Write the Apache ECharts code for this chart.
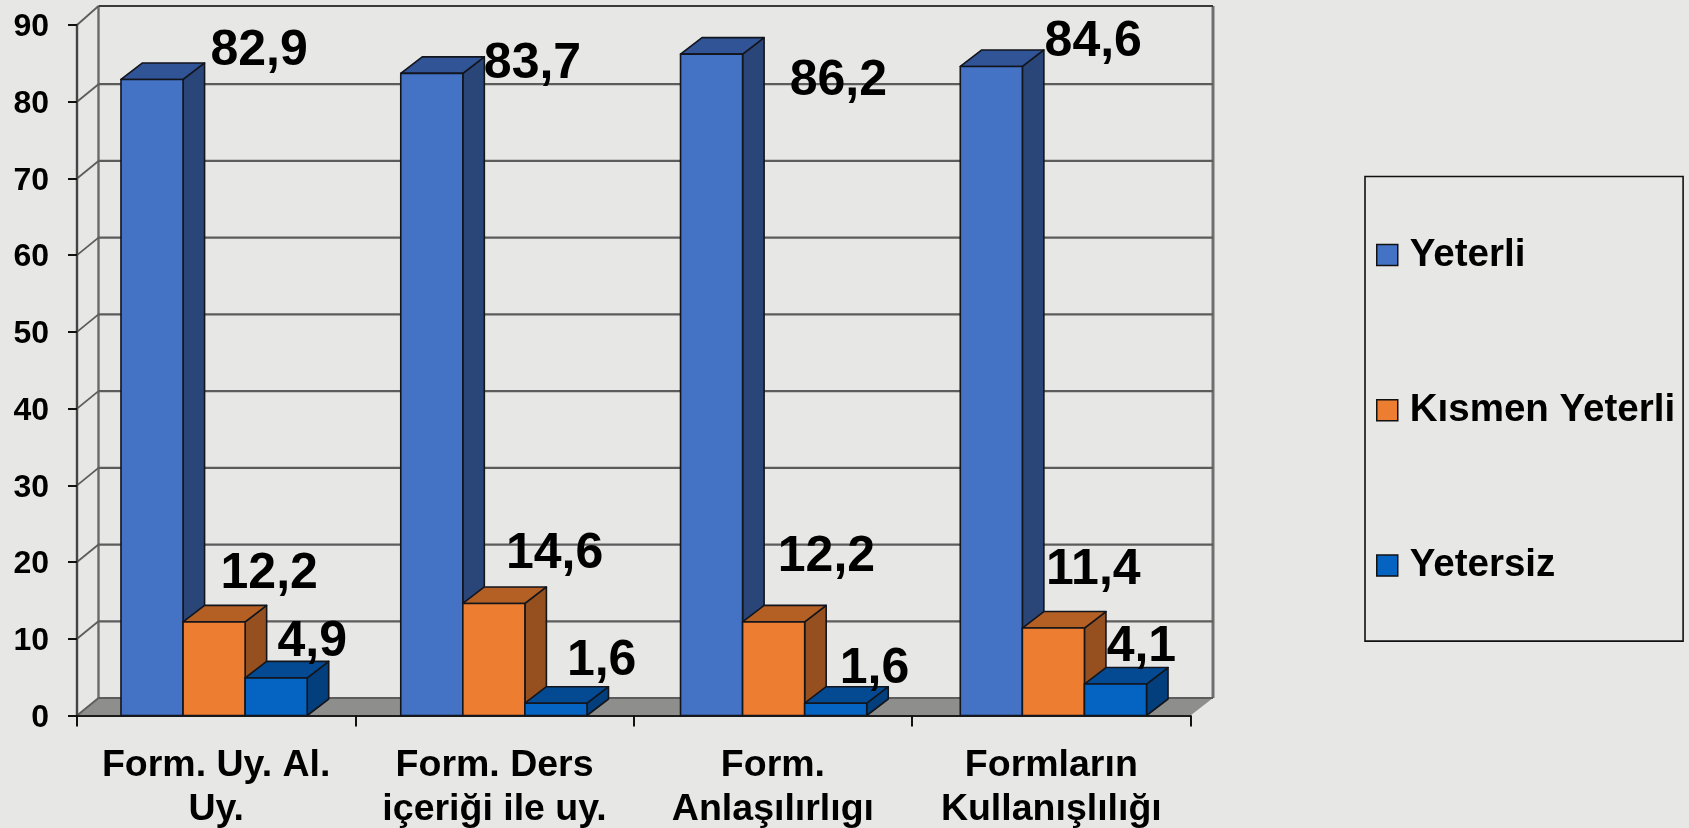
<!DOCTYPE html>
<html>
<head>
<meta charset="utf-8">
<script src="https://cdn.jsdelivr.net/npm/echarts@6/dist/echarts.min.js"></script>
<style>html,body{margin:0;padding:0;background:#e7e7e6}#c{width:1689px;height:828px}</style>
</head>
<body>
<div id="c"></div>
<script>
const categories = ['Form. Uy. Al.\nUy.', 'Form. Ders\niçeriği ile uy.', 'Form.\nAnlaşılırlıgı', 'Formların\nKullanışlılığı'];
const yeterli = [82.9, 83.7, 86.2, 84.6];
const kismenYeterli = [12.2, 14.6, 12.2, 11.4];
const yetersiz = [4.9, 1.6, 1.6, 4.1];
const yTicks = [0, 10, 20, 30, 40, 50, 60, 70, 80, 90];

// label offsets from each bar's front-top centre, as placed in the reference
const yeterliLabelOffset = [[105, -28], [100, -9.5], [127.5, 27], [104, -24.5]];
const kismenLabelOffset = [[53, -48], [60, -49], [53.5, -65], [42, -57.5]];
const yetersizLabelOffset = [[34, -36], [45, -42], [39.5, -34.5], [28, -37]];

const FONT = '"Liberation Sans", Arial, sans-serif';
const DX = 21.5, DY = 16.5, WALL_DY = 17.5, TOP_EXTRA = 1.5;
const BAR_RATIO = 0.223;
const GROUP_SPREAD = 1.005; // the reference's bar groups sit slightly wider apart than its ticks

function barSeries(name, values, offsets, slot, front, top, side) {
  return {
    name, type: 'custom', z: 3,
    coordinateSystem: 'cartesian2d',
    clip: false,
    itemStyle: { color: front },
    encode: { x: 0, y: 1 },
    data: values.map((v, i) => [i, v]),
    renderItem(params, api) {
      const i = api.value(0), v = api.value(1);
      const w = api.size([1, 0])[0] * BAR_RATIO;
      const c = api.coord([i, v]);
      const base = api.coord([i, 0]);
      const mid = params.coordSys.x + params.coordSys.width / 2;
      const cx = mid + (c[0] - mid) * GROUP_SPREAD;
      const l = cx + (slot - 1.5) * w, r = l + w, t = c[1], b = base[1];
      const edge = { stroke: '#12151c', lineWidth: 1.6, lineJoin: 'round' };
      const off = offsets[params.dataIndex];
      return {
        type: 'group',
        children: [
          { type: 'polygon', shape: { points: [[r, t], [r + DX, t - DY], [r + DX, b - DY], [r, b]] }, style: { fill: side, ...edge } },
          { type: 'polygon', shape: { points: [[l, t], [l + DX, t - DY], [r + DX, t - DY], [r, t]] }, style: { fill: top, ...edge } },
          { type: 'rect', shape: { x: l, y: t, width: w, height: b - t }, style: { fill: front, ...edge } },
          { type: 'text', z2: 50, style: {
              text: v.toFixed(1).replace('.', ','),
              x: c[0] + (slot - 1) * w + off[0], y: t + off[1],
              align: 'center', verticalAlign: 'middle',
              font: 'bold 50px ' + FONT, fill: '#000'
          } }
        ]
      };
    }
  };
}

const wallSeries = {
  name: 'walls', type: 'custom', z: 0, silent: true,
  coordinateSystem: 'cartesian2d', clip: false,
  encode: { y: 0 },
  data: yTicks.map(t => [t]),
  renderItem(params, api) {
    const sys = params.coordSys;
    const v = api.value(0);
    const y = api.coord([0, v])[1];
    const x0 = sys.x, x1 = sys.x + sys.width;
    const children = [];
    const line = (a, b, c, d, stroke, lw) => ({ type: 'line', shape: { x1: a, y1: b, x2: c, y2: d }, style: { stroke, lineWidth: lw } });
    const top = v === yTicks[yTicks.length - 1];
    const yBack = y - WALL_DY - (top ? TOP_EXTRA : 0);
    if (params.dataIndex === 0) {
      children.push({ type: 'polygon', shape: { points: [[x0, y], [x1, y], [x1 + DX + 1, y - WALL_DY], [x0 + DX, y - WALL_DY]] }, style: { fill: '#8e8e8c' } });
      const yTop = sys.y - WALL_DY - TOP_EXTRA;
      children.push(line(x0 + DX, y - WALL_DY, x0 + DX, yTop, '#6a6a6a', 2.4));
      children.push(line(x1 + DX + 1, y - WALL_DY, x1 + DX + 1, yTop, '#707070', 3));
    }
    children.push(line(x0 + DX, yBack, x1 + DX + 1, yBack, top ? '#3a3a3a' : '#5c5c5c', 2.2));
    children.push(line(x0, y, x0 + DX, yBack, '#5c5c5c', 1.8));
    return { type: 'group', children };
  }
};

const chart = echarts.init(document.getElementById('c'));
chart.setOption({
  animation: false,
  backgroundColor: '#e7e7e6',
  textStyle: { fontFamily: FONT },
  grid: { left: 77, top: 25, width: 1113.5, height: 690.5, containLabel: false, outerBoundsMode: 'none' },
  xAxis: {
    type: 'category', data: categories, z: 1,
    axisLine: { lineStyle: { color: '#1c1c1c', width: 2 } },
    axisTick: { show: true, length: 11, lineStyle: { color: '#111', width: 2 } },
    axisLabel: { interval: 0, margin: 28, fontSize: 37.5, fontWeight: 'bold', color: '#000', lineHeight: 44, fontFamily: FONT },
    splitLine: { show: false }
  },
  yAxis: {
    type: 'value', min: 0, max: 90, interval: 10, z: 1,
    axisLine: { show: true, lineStyle: { color: '#444', width: 2.4 } },
    axisTick: { show: true, length: 9, lineStyle: { color: '#111', width: 2 } },
    axisLabel: {
      margin: 28,
      formatter: '{v|{value}}',
      rich: { v: { fontSize: 32, fontWeight: 'bold', color: '#000', fontFamily: FONT, padding: [5, 0, 0, 0] } }
    },
    splitLine: { show: false }
  },
  legend: {
    orient: 'vertical', left: 1365, top: 176.5,
    data: [
      { name: 'Yeterli', icon: 'rect' },
      { name: 'Kısmen Yeterli', icon: 'rect' },
      { name: 'Yetersiz', icon: 'rect' }
    ],
    padding: [59, 8, 56, 11],
    itemGap: 116.3, itemWidth: 21, itemHeight: 21,
    borderColor: '#111', borderWidth: 1.6,
    itemStyle: { borderColor: '#111', borderWidth: 1.5 },
    textStyle: { fontSize: 38.5, fontWeight: 'bold', color: '#000', fontFamily: FONT, lineHeight: 38, padding: [0, 0, 0, 7] },
    selectedMode: false
  },
  series: [
    wallSeries,
    barSeries('Yeterli', yeterli, yeterliLabelOffset, 0, '#4472c4', '#315496', '#2a4679'),
    barSeries('Kısmen Yeterli', kismenYeterli, kismenLabelOffset, 1, '#ed7d31', '#b45f24', '#964f1e'),
    barSeries('Yetersiz', yetersiz, yetersizLabelOffset, 2, '#0563c1', '#044a92', '#033f7c')
  ]
});
</script>
</body>
</html>
